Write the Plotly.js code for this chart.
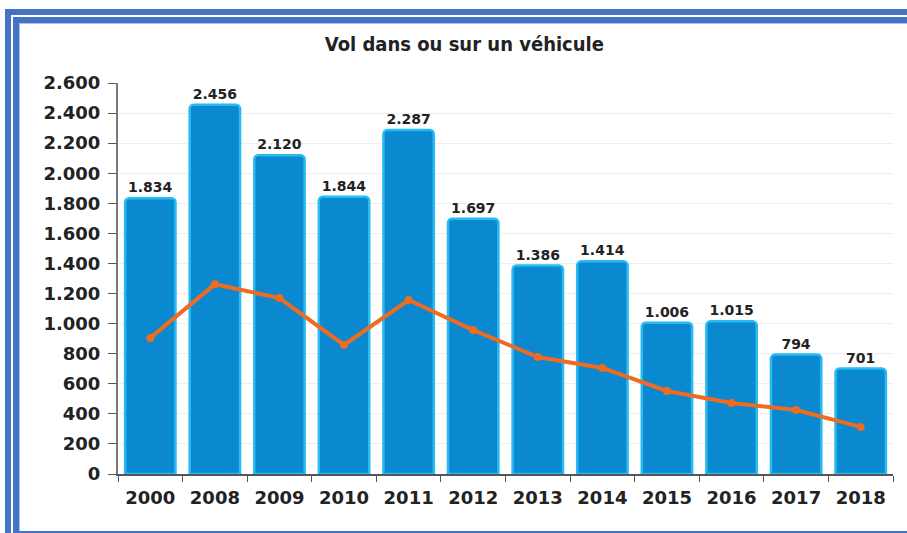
<!DOCTYPE html>
<html>
<head>
<meta charset="utf-8">
<script src="https://cdn.plot.ly/plotly-3.0.1.min.js"></script>
<style>
    html, body { margin: 0; padding: 0; background: #fff; }
    #wrap { position: relative; width: 907px; height: 533px; overflow: hidden; }
    #chart { position: absolute; left: 0; top: 0; width: 907px; height: 533px; }
    .frame { position: absolute; pointer-events: none; border-color: #4472c4; border-style: solid; }
    #outer { left: 5px; top: 9px; right: -10px; bottom: -10px; border-width: 6px 0 0 6px; }
    #inner { left: 13px; top: 17px; right: -10px; bottom: 0; border-width: 6px 0 2px 6px; box-shadow: inset 1px 1px 0 #a9c3ee; }
</style>
</head>
<body>
<div id="wrap">
    <div id="chart"></div>
    <div class="frame" id="outer"></div>
    <div class="frame" id="inner"></div>
</div>
<script>
// Values
const years = ['2000', '2008', '2009', '2010', '2011', '2012', '2013', '2014', '2015', '2016', '2017', '2018'];
const thefts = [1834, 2456, 2120, 1844, 2287, 1697, 1386, 1414, 1006, 1015, 794, 701];
const trend = [905, 1262, 1170, 858, 1157, 957, 778, 705, 552, 472, 425, 313];
const yTicks = [0, 200, 400, 600, 800, 1000, 1200, 1400, 1600, 1800, 2000, 2200, 2400, 2600];

const barTrace = {
    x: years,
    y: thefts,
    type: 'bar',
    marker: {
        color: '#0a89d1',
        line: { color: '#27bbf2', width: 2.5 },
        cornerradius: 4
    },
    texttemplate: '%{y:,d}',
    textposition: 'outside',
    cliponaxis: false,
    textfont: { family: 'DejaVu Sans', size: 14, color: '#222', weight: 'bold' },
    hoverinfo: 'skip'
};

const lineTrace = {
    x: years,
    y: trend,
    type: 'scatter',
    mode: 'lines+markers',
    line: { color: '#ef6b1f', width: 4 },
    marker: { color: '#ef6b1f', size: 8 },
    hoverinfo: 'skip'
};

const layout = {
    width: 907,
    height: 533,
    margin: { t: 83, r: 14, b: 59, l: 118 },
    paper_bgcolor: 'rgba(0,0,0,0)',
    plot_bgcolor: '#fff',
    separators: ',.',
    showlegend: false,
    bargap: 0.22,
    title: {
        text: 'Vol dans ou sur un véhicule',
        x: 0.512,
        xanchor: 'center',
        y: 0.918,
        yanchor: 'middle',
        font: { family: 'DejaVu Sans Condensed', size: 20, color: '#222', weight: 'bold' }
    },
    xaxis: {
        type: 'category',
        range: [-0.5, 11.5],
        showline: true,
        linecolor: '#555',
        linewidth: 2,
        ticks: 'outside',
        tickson: 'boundaries',
        ticklen: 6,
        tickcolor: '#555',
        ticklabelstandoff: 6,
        tickfont: { family: 'DejaVu Sans', size: 18, color: '#222', weight: 'bold' },
        showgrid: false
    },
    yaxis: {
        range: [0, 2600],
        tickvals: yTicks,
        tickformat: ',d',
        showline: true,
        linecolor: '#777',
        linewidth: 2,
        ticks: 'outside',
        ticklen: 8,
        tickcolor: '#555',
        ticklabelstandoff: 4,
        tickfont: { family: 'DejaVu Sans', size: 18, color: '#222', weight: 'bold' },
        gridcolor: '#eeeeee',
        zeroline: false
    }
};

Plotly.newPlot('chart', [barTrace, lineTrace], layout, { displayModeBar: false, staticPlot: true });
</script>
</body>
</html>
